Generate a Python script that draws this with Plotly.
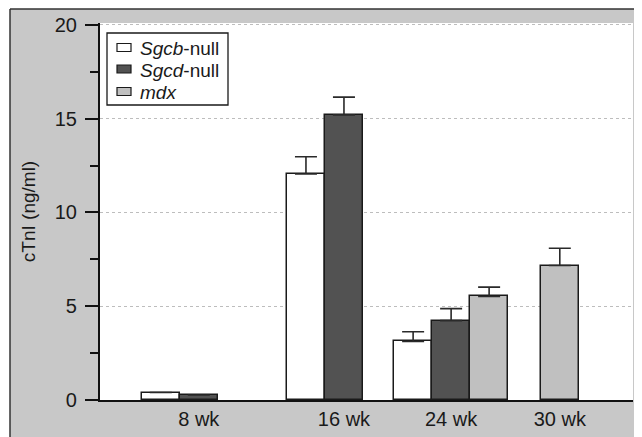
import plotly.graph_objects as go

# ---- data ----
groups = ["8 wk", "16 wk", "24 wk", "30 wk"]
series = ["<i>Sgcb</i>-null", "<i>Sgcd</i>-null", "<i>mdx</i>"]
sgcb = [0.40, 12.05, 3.12, None]
sgcd = [0.27, 15.20, 4.23, None]
mdx = [None, None, 5.52, 7.17]
sgcb_err = [0.0, 0.92, 0.52, None]
sgcd_err = [0.0, 0.95, 0.64, None]
mdx_err = [None, None, 0.50, 0.92]

# ---- layout helpers (positions / styles) ----
# the page body has an 8px margin, so the figure is sized/offset to compensate
OFF = 8
W, H = 642 - OFF, 437 - OFF
ML, MR, MT, MB = 100 - OFF, 9, 23 - OFF, 37
group_pos = [2.6, 6.42, 9.24, 12.1]          # category centres on the x axis (bar-width units)
x_range = [0, (W - ML - MR) / 38.0]
slot_offsets = {
    0: [-1.5, -1.5, -1.5, -1.5],
    1: [-0.5, -0.5, -0.5, -0.5],
    2: [0.5, 0.5, 0.5, -0.5],
}
fills = ["#ffffff", "#525252", "#c0c0c0"]
BG = "#c8c8c8"
INK = "#1a1a1a"
FONT = "Liberation Sans, Arial, sans-serif"

vals = [sgcb, sgcd, mdx]
errs = [sgcb_err, sgcd_err, mdx_err]

fig = go.Figure()
for i, (name, v, e) in enumerate(zip(series, vals, errs)):
    fig.add_trace(go.Bar(
        x=group_pos, y=v, name=name, showlegend=False,
        width=[1.0] * len(group_pos),
        offset=slot_offsets[i],
        marker=dict(color=fills[i], line=dict(color=INK, width=1.5)),
        error_y=dict(type="data", array=e, arrayminus=[0] * len(e), symmetric=False,
                     color="#2a2a2a", thickness=1.6, width=11),
    ))

def px_x(px):   # window pixel -> paper
    return (px - OFF - ML) / (W - ML - MR)

def px_y(py):
    return (H - MB - (py - OFF)) / (H - MT - MB)

shapes = [
    dict(type="rect", xref="paper", yref="paper", x0=px_x(0), x1=px_x(10), y0=px_y(437), y1=px_y(0),
         fillcolor="white", line=dict(width=0), layer="above"),
    dict(type="rect", xref="paper", yref="paper", x0=px_x(0), x1=px_x(642), y0=px_y(9), y1=px_y(0),
         fillcolor="white", line=dict(width=0), layer="above"),
    dict(type="line", xref="paper", yref="paper", x0=px_x(10), x1=px_x(642), y0=px_y(9), y1=px_y(9),
         line=dict(color="#333333", width=1.5)),
    dict(type="line", xref="paper", yref="paper", x0=px_x(10), x1=px_x(10), y0=px_y(9), y1=px_y(437),
         line=dict(color="#333333", width=1.5)),
    # legend box
    dict(type="rect", xref="paper", yref="paper", x0=px_x(107), x1=px_x(228), y0=px_y(105), y1=px_y(33),
         fillcolor="white", line=dict(color=INK, width=1.3), layer="above"),
]
annotations = []
row_y = [47.5, 69, 91.5]
for i, name in enumerate(series):
    yc = row_y[i]
    shapes.append(dict(type="rect", xref="paper", yref="paper",
                       x0=px_x(117), x1=px_x(131), y0=px_y(yc + 4), y1=px_y(yc - 4),
                       fillcolor=fills[i], line=dict(color=INK, width=1.2), layer="above"))
    annotations.append(dict(xref="paper", yref="paper", x=px_x(138), y=px_y(yc + 1),
                            xanchor="left", yanchor="middle", showarrow=False, text=name,
                            font=dict(size=19, family=FONT, color=INK)))

fig.update_layout(
    width=W, height=H,
    margin=dict(l=ML, r=MR, t=MT, b=MB, pad=0, autoexpand=False),
    paper_bgcolor=BG, plot_bgcolor="white",
    font=dict(family=FONT, color=INK, size=20),
    showlegend=False,
    shapes=shapes, annotations=annotations,
    bargap=0, barmode="overlay",
)
fig.update_xaxes(
    range=x_range, tickmode="array", tickvals=group_pos, ticktext=groups,
    showline=True, linecolor="#111111", linewidth=2.2, ticks="", showgrid=False,
    zeroline=False, tickfont=dict(size=20), ticklabelstandoff=0, automargin=False,
)
fig.update_yaxes(
    range=[0, 20.1], tickvals=[0, 5, 10, 15, 20],
    showline=True, linecolor="#111111", linewidth=2.2,
    ticks="outside", ticklen=13, tickwidth=1.5, tickcolor="#111111",
    minor=dict(dtick=2.5, ticks="outside", ticklen=8, tickwidth=1.5, tickcolor="#111111", showgrid=False),
    showgrid=True, gridcolor="#bdbdbd", griddash="dot", gridwidth=1,
    zeroline=False, tickfont=dict(size=20), ticklabelstandoff=4, automargin=False,
    title=dict(text="cTnI (ng/ml)", font=dict(size=19), standoff=14),
)

fig.write_html("out.html")
